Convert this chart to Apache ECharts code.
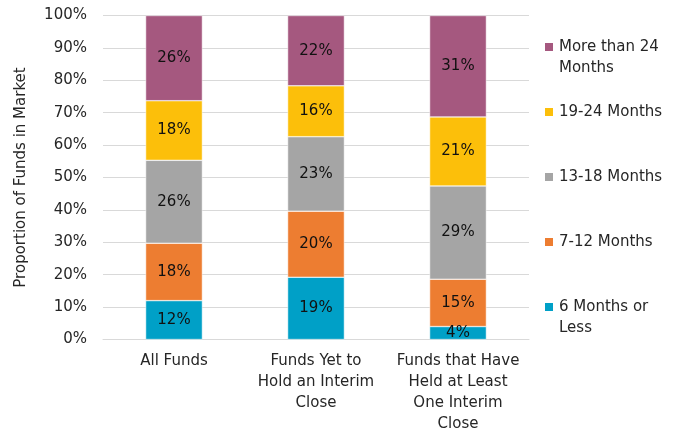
<!DOCTYPE html>
<html>
<head>
<meta charset="utf-8">
<script src="https://cdn.jsdelivr.net/npm/echarts@6/dist/echarts.min.js"></script>
<style>html,body{margin:0;padding:0;background:#fff}#c{width:687px;height:432px}</style>
</head>
<body>
<div id="c"></div>
<script>
var categories = ['All Funds', 'Funds Yet to\nHold an Interim\nClose', 'Funds that Have\nHeld at Least\nOne Interim\nClose'];
var seriesNames = ['6 Months or\nLess', '7-12 Months', '13-18 Months', '19-24 Months', 'More than 24\nMonths'];
var v6orLess = [12.0, 19.2, 4.0];
var v7to12 = [17.7, 20.4, 14.6];
var v13to18 = [25.6, 23.0, 28.8];
var v19to24 = [18.4, 15.7, 21.3];
var vOver24 = [26.3, 21.7, 31.3];
var yTicks = [0, 10, 20, 30, 40, 50, 60, 70, 80, 90, 100];

var colors = ['#00A0C7', '#ED7D31', '#A5A5A5', '#FCBF0A', '#A5587F'];
var values = [v6orLess, v7to12, v13to18, v19to24, vOver24];
var FONT = 'DejaVu Sans';

var series = seriesNames.map(function (n, i) {
  return {
    name: n, type: 'bar', stack: 'total', barWidth: '40%',
    itemStyle: { color: colors[i], borderColor: '#ffffff', borderWidth: 0.5 },
    label: {
      show: true, position: 'inside', fontFamily: FONT, fontSize: 15, color: '#111111',
      formatter: function (p) { return Math.round(p.value) + '%'; }
    },
    data: values[i]
  };
});

// one legend per item, top-down: purple, yellow, gray, orange, teal
var legendTops = [15.5, 101.5, 166.5, 231.5, 275.5];
var legendOrder = [4, 3, 2, 1, 0];
var legends = legendOrder.map(function (si, k) {
  return {
    orient: 'vertical', left: 543, top: legendTops[k], padding: 0,
    itemWidth: 10, itemHeight: 10, icon: 'rect',
    data: [seriesNames[si]],
    formatter: function (name) { return name.indexOf('\n') >= 0 ? ' \n' + name : name; },
    textStyle: { fontFamily: FONT, fontSize: 15, color: '#262626', lineHeight: 21 }
  };
});

var chart = echarts.init(document.getElementById('c'));
chart.setOption({
  animation: false,
  backgroundColor: '#ffffff',
  legend: legends,
  grid: { left: 103, right: 158, top: 15.5, bottom: 92.5, outerBoundsMode: 'none', containLabel: false },
  xAxis: {
    type: 'category', data: categories,
    axisLine: { lineStyle: { color: '#d9d9d9', width: 1 } },
    axisTick: { show: false },
    axisLabel: { fontFamily: FONT, fontSize: 15, color: '#262626', lineHeight: 21, margin: 11, interval: 0 }
  },
  yAxis: {
    type: 'value', min: yTicks[0], max: yTicks[yTicks.length - 1], interval: yTicks[1] - yTicks[0],
    name: 'Proportion of Funds in Market', nameLocation: 'middle', nameGap: 74,
    nameTextStyle: { fontFamily: FONT, fontSize: 15, color: '#262626' },
    axisLine: { show: false }, axisTick: { show: false },
    axisLabel: { fontFamily: FONT, fontSize: 15, color: '#262626', margin: 16, formatter: '{value}%' },
    splitLine: { lineStyle: { color: '#d9d9d9', width: 1 } }
  },
  series: series
});
</script>
</body>
</html>
